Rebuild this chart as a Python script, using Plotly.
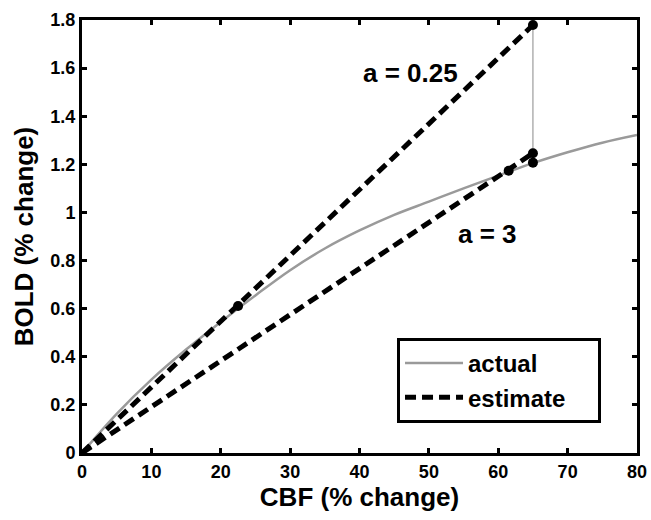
import plotly.graph_objects as go

# actual BOLD curve
cbf = [0, 5, 10, 15, 20, 25, 30, 35, 40, 45, 50, 55, 60, 65, 70, 75, 80]
bold_actual = [0, 0.163, 0.305, 0.43, 0.545, 0.655, 0.76, 0.85, 0.925, 0.99,
               1.045, 1.10, 1.153, 1.205, 1.25, 1.29, 1.322]

# estimate lines
est_a025_x = [0, 65]
est_a025_y = [0, 1.779]
est_a3_x = [0, 65]
est_a3_y = [0, 1.246]

# vertical connector
vert_x = [65, 65]
vert_y = [1.207, 1.779]

# dots
dot_x = [22.5, 61.5, 65, 65, 65]
dot_y = [0.611, 1.173, 1.779, 1.246, 1.207]

x_ticks = [0, 10, 20, 30, 40, 50, 60, 70, 80]
y_ticks = [0, 0.2, 0.4, 0.6, 0.8, 1, 1.2, 1.4, 1.6, 1.8]

FONT = "Liberation Sans, Arial, Helvetica, sans-serif"
DASH = "11px,6px"
NB = "\u00a0"

fig = go.Figure()
fig.add_trace(go.Scatter(x=cbf, y=bold_actual, mode="lines", name="actual",
                         line=dict(color="#9a9a9a", width=2.5), line_shape="spline"))
fig.add_trace(go.Scatter(x=est_a025_x, y=est_a025_y, mode="lines", name="estimate" + NB * 4,
                         legendgroup="est",
                         line=dict(color="black", width=5, dash=DASH)))
fig.add_trace(go.Scatter(x=est_a3_x, y=est_a3_y, mode="lines", name="estimate",
                         legendgroup="est", showlegend=False,
                         line=dict(color="black", width=5, dash=DASH)))
fig.add_trace(go.Scatter(x=vert_x, y=vert_y, mode="lines", showlegend=False,
                         line=dict(color="#888888", width=1)))
fig.add_trace(go.Scatter(x=dot_x, y=dot_y, mode="markers", showlegend=False,
                         marker=dict(color="black", size=10)))

fig.add_annotation(x=47.3, y=1.58, text="a = 0.25", showarrow=False,
                   font=dict(size=26, family=FONT, color="black", weight="bold"))
fig.add_annotation(x=58.5, y=0.91, text="a = 3", showarrow=False,
                   font=dict(size=26, family=FONT, color="black", weight="bold"))

axis_common = dict(showline=True, linecolor="black", linewidth=3, mirror="ticks",
                   ticks="inside", ticklen=5, tickwidth=2.5, tickcolor="black",
                   showgrid=False, zeroline=False,
                   tickfont=dict(size=18, family=FONT, color="black", weight="bold"))

fig.update_xaxes(range=[0, 80], tickvals=x_ticks,
                 title=dict(text="CBF (% change)", standoff=6,
                            font=dict(size=26, family=FONT, color="black", weight="bold")),
                 **axis_common)
fig.update_yaxes(range=[0, 1.8], tickvals=y_ticks,
                 title=dict(text="BOLD (% change)", standoff=10,
                            font=dict(size=26, family=FONT, color="black", weight="bold")),
                 **axis_common)

fig.update_layout(
    width=651, height=520,
    margin=dict(l=82, r=14, t=20, b=67, autoexpand=False),
    paper_bgcolor="white", plot_bgcolor="white",
    font=dict(family=FONT, color="black"),
    hovermode=False,
    legend=dict(x=0.5676, y=0.2656, xanchor="left", yanchor="top",
                bordercolor="black", borderwidth=3, bgcolor="white",
                font=dict(size=24, family=FONT, color="black", weight="bold"),
                tracegroupgap=0, itemwidth=58),
)

# remove the browser's default body margin so the figure fills the window exactly
fig.write_html("out.html",
               config={"displayModeBar": False},
               post_script="document.body.style.margin='0';document.body.style.overflow='hidden';")
